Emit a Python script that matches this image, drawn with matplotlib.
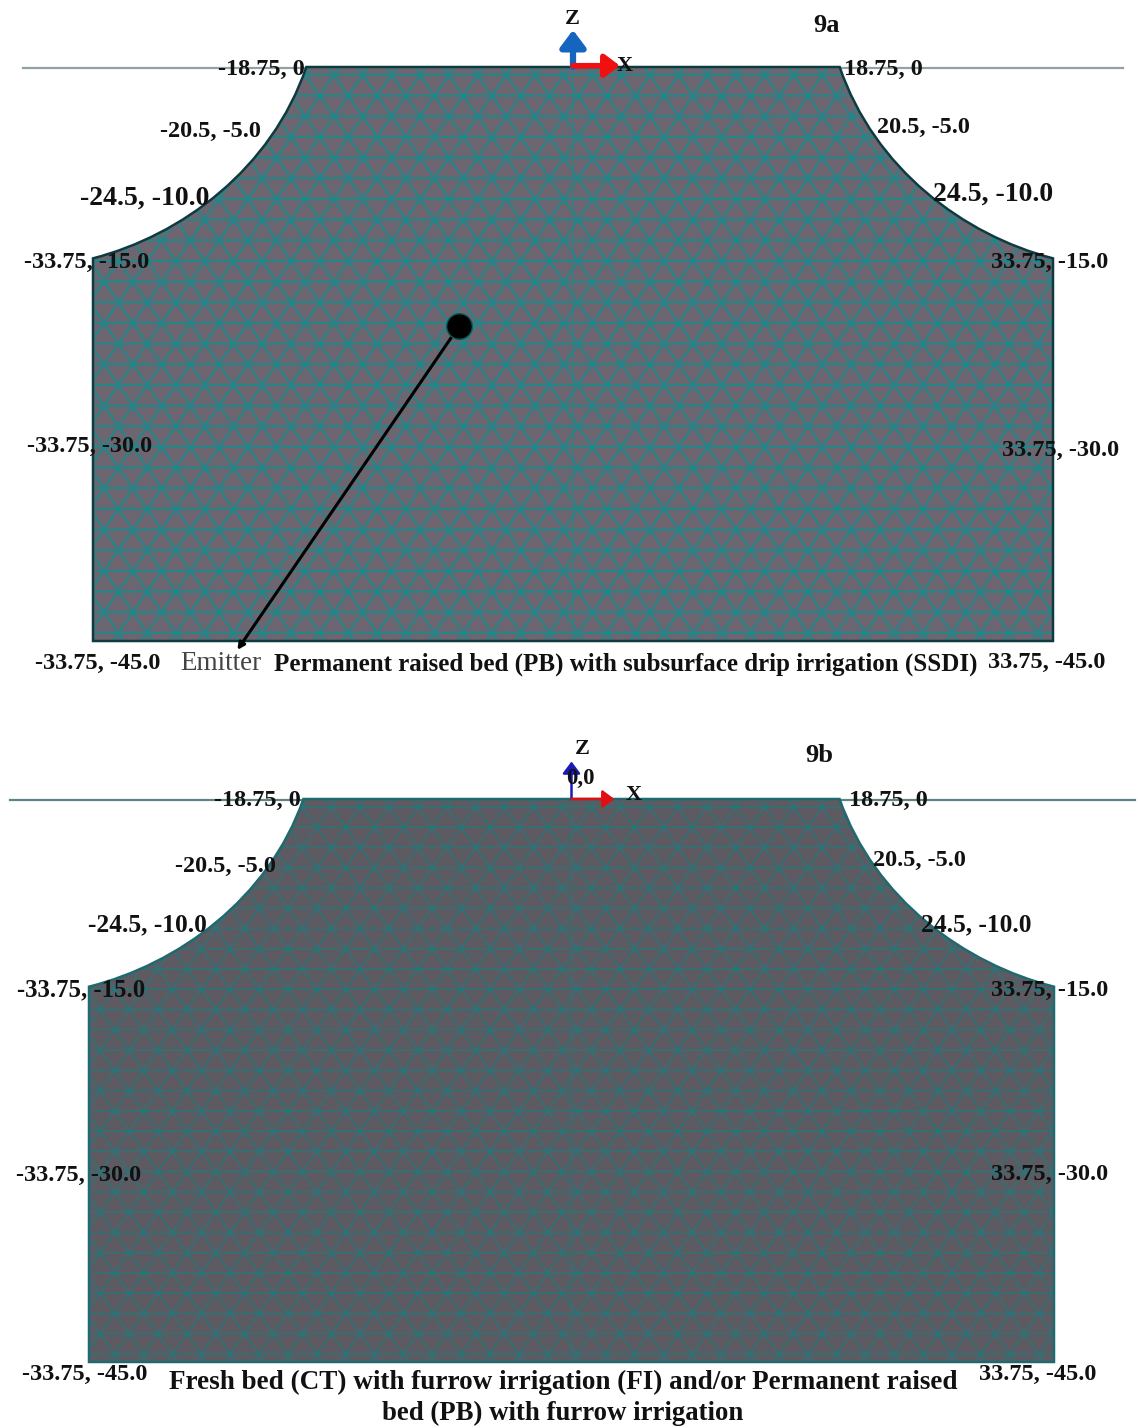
#!/usr/bin/env python3
# -*- coding: utf-8 -*-
import numpy as np
import matplotlib
matplotlib.use('Agg')
import matplotlib.pyplot as plt
import matplotlib.tri as mtri
from matplotlib.path import Path
from matplotlib.patches import PathPatch

W, H = 1138, 1428

# bed outline, right half (x, z in cm)
bed_x = [18.75, 33.75, 33.75]
bed_z = [0.0, -15.0, -45.0]
# shoulder control points of the curved part
ctrl_x = [21.2, 27.5]
ctrl_z = [-8.0, -13.2]

labels_a = ['-18.75, 0', '-20.5, -5.0', '-24.5, -10.0', '-33.75, -15.0', '-33.75, -30.0', '-33.75, -45.0',
            '18.75, 0', '20.5, -5.0', '24.5, -10.0', '33.75, -15.0', '33.75, -30.0', '33.75, -45.0']
labels_b = labels_a
caption_a = 'Permanent raised bed (PB) with subsurface drip irrigation (SSDI)'
caption_b = ['Fresh bed (CT) with furrow irrigation (FI) and/or Permanent raised',
             'bed (PB) with furrow irrigation']
emitter_xz = (-8.0, -20.3)

MESH_DX = 2.02
MESH_DZ = 1.62

plt.rcParams['font.family'] = ['Liberation Serif', 'DejaVu Serif']
fig = plt.figure(figsize=(W / 100, H / 100), dpi=100)


def put(x, y, s, size=17.5, weight='bold', color='#111111', ha='left', va='center'):
    # x, y are picture pixels
    fig.text(x / W, 1 - y / H, s, fontsize=size, fontweight=weight, color=color, ha=ha, va=va, zorder=20)


def bed_path():
    verts = [(-bed_x[2], bed_z[2]), (-bed_x[1], bed_z[1]),
             (-ctrl_x[1], ctrl_z[1]), (-ctrl_x[0], ctrl_z[0]), (-bed_x[0], bed_z[0]),
             (bed_x[0], bed_z[0]),
             (ctrl_x[0], ctrl_z[0]), (ctrl_x[1], ctrl_z[1]), (bed_x[1], bed_z[1]),
             (bed_x[2], bed_z[2]), (-bed_x[2], bed_z[2])]
    codes = [Path.MOVETO, Path.LINETO, Path.CURVE4, Path.CURVE4, Path.CURVE4, Path.LINETO,
             Path.CURVE4, Path.CURVE4, Path.CURVE4, Path.LINETO, Path.CLOSEPOLY]
    return Path(verts, codes)


def arrow(ax, xy, start, color, lw, scale):
    ax.annotate('', xy=xy, xytext=start,
                arrowprops=dict(arrowstyle='-|>,head_width=0.45,head_length=0.6', color=color, lw=lw,
                                mutation_scale=scale, shrinkA=0, shrinkB=0),
                zorder=7, annotation_clip=False)


def draw_panel(left, right, top, bottom, fill, mesh, lw, edge, dot):
    ax = fig.add_axes([left / W, 1 - bottom / H, (right - left) / W, (bottom - top) / H])
    ax.set_xlim(-33.75, 33.75)
    ax.set_ylim(-45, 0)
    ax.axis('off')

    patch = PathPatch(bed_path(), facecolor=fill, edgecolor='none', zorder=1, clip_on=False)
    ax.add_patch(patch)

    # triangular mesh texture
    xs, zs = [], []
    for i, z in enumerate(np.arange(1.0, -47.0, -MESH_DZ)):
        off = MESH_DX / 2 if i % 2 else 0
        for x in np.arange(-36.0, 36.0, MESH_DX):
            xs.append(x + off)
            zs.append(z)
    tri = mtri.Triangulation(xs, zs)
    lines = ax.triplot(tri, color=mesh, lw=lw, zorder=2)
    for ln in lines:
        ln.set_clip_path(patch)
    pts = ax.scatter(xs, zs, s=dot, color=mesh, lw=0, zorder=3)
    pts.set_clip_path(patch)
    ax.plot([0, 0], [0, -45], color=mesh, lw=1.2, alpha=0.7, zorder=3)

    outline = PathPatch(bed_path(), facecolor='none', edgecolor=edge, lw=1.8, zorder=4, clip_on=False)
    ax.add_patch(outline)
    return ax


# panel 9a
ax_a = draw_panel(93, 1053, 67, 641, '#6d6670', '#2a8387', 1.7, '#0e3b40', 24)
fig.add_artist(plt.Line2D([23 / W, 1123 / W], [1 - 68 / H] * 2, color='#8fa3a5', lw=1.6, zorder=0))
ax_a.plot(*emitter_xz, 'o', color='black', ms=18.5, mec='#0c5a5c', mew=1, zorder=6, clip_on=False)
ax_a.annotate('', xy=(-23.6, -45.7), xytext=emitter_xz,
              arrowprops=dict(arrowstyle='-|>', color='black', lw=2.2, shrinkA=0, shrinkB=0),
              zorder=5, annotation_clip=False)
arrow(ax_a, (0, 2.9), (0, 0), '#1565c0', 4.5, 17)
arrow(ax_a, (3.3, 0.1), (0, 0.1), '#f01010', 4, 15)
put(572, 19, 'Z', size=16, ha='center')
put(625, 66, 'X', size=16, ha='center')
put(827, 26, '9a', size=19, ha='center')

pos_a = [(218, 69), (160, 131), (80, 198), (24, 262), (27, 446), (35, 663),
         (844, 69), (877, 127), (933, 194), (991, 262), (1002, 450), (988, 662)]
sizes_a = [17.5, 17.5, 20, 17.5, 17.5, 17.5, 17.5, 17.5, 20, 17.5, 17.5, 17.5]
for s, (x, y), fs in zip(labels_a, pos_a, sizes_a):
    put(x, y, s, size=fs)
put(180, 663, 'Emitter', size=19.5, weight='normal', color='#444444')
put(274, 664, caption_a, size=18)

# panel 9b
ax_b = draw_panel(89, 1054, 799, 1362, '#5e5a62', '#2f7276', 1.2, '#1f6a70', 16)
fig.add_artist(plt.Line2D([10 / W, 1135 / W], [1 - 800 / H] * 2, color='#5f8487', lw=1.6, zorder=0))
arrow(ax_b, (0, 3.0), (0, 0), '#1a1ab8', 1.8, 12)
arrow(ax_b, (3.0, 0), (0, 0), '#e01010', 1.8, 12)
put(582, 749, 'Z', size=16, ha='center')
put(634, 795, 'X', size=16, ha='center')
put(566, 778, '0,0', size=16.5)
put(819, 755, '9b', size=19, ha='center')

pos_b = [(214, 800), (175, 866), (88, 925), (17, 990), (16, 1175), (22, 1374),
         (849, 800), (873, 860), (921, 925), (991, 990), (991, 1174), (979, 1374)]
sizes_b = [17.5, 17.5, 18.4, 17.8, 17.5, 17.5, 17.5, 17.5, 18.4, 17.5, 17.5, 17.5]
for s, (x, y), fs in zip(labels_b, pos_b, sizes_b):
    put(x, y, s, size=fs)
put(563, 1382, caption_b[0], size=19.5, ha='center')
put(563, 1413, caption_b[1], size=19.3, ha='center')

fig.savefig('out.png', dpi=100)
